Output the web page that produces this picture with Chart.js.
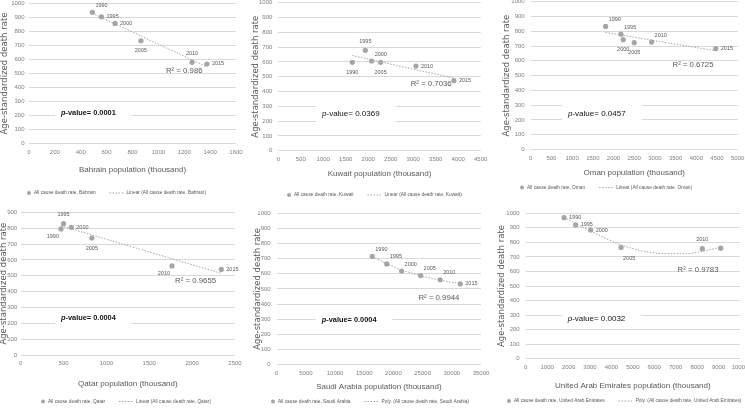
<!DOCTYPE html>
<html>
<head>
<meta charset="utf-8">
<script src="https://cdn.jsdelivr.net/npm/chart.js@4.4.0/dist/chart.umd.min.js"></script>
<style>
    html, body { margin: 0; padding: 0; background: #fff; width: 745px; height: 409px; overflow: hidden; position: relative; }
    canvas { position: absolute; }
</style>
</head>
<body>
<canvas id="bahrain"></canvas>
<canvas id="kuwait"></canvas>
<canvas id="oman"></canvas>
<canvas id="qatar"></canvas>
<canvas id="saudi"></canvas>
<canvas id="uae"></canvas>
<script>
// Data
const years = ['1990', '1995', '2000', '2005', '2010', '2015'];
const rateTicks = [0, 100, 200, 300, 400, 500, 600, 700, 800, 900, 1000];
const qatarRateTicks = [0, 100, 200, 300, 400, 500, 600, 700, 800, 900];

const bahrainPop = [490, 560, 665, 865, 1260, 1375];
const bahrainRate = [937, 905, 858, 734, 580, 568];
const bahrainTrendPop = [490, 1375];
const bahrainTrendRate = [930, 547];
const bahrainPopTicks = [0, 200, 400, 600, 800, 1000, 1200, 1400, 1600];

const kuwaitPop = [1645, 1935, 2075, 2275, 3060, 3905];
const kuwaitRate = [597, 678, 606, 597, 572, 473];
const kuwaitTrendPop = [1645, 3905];
const kuwaitTrendRate = [643, 490];
const kuwaitPopTicks = [0, 500, 1000, 1500, 2000, 2500, 3000, 3500, 4000, 4500];

const omanPop = [1810, 2180, 2235, 2500, 2920, 4470];
const omanRate = [833, 780, 743, 723, 727, 683];
const omanTrendPop = [1810, 4470];
const omanTrendRate = [792, 668];
const omanPopTicks = [0, 500, 1000, 1500, 2000, 2500, 3000, 3500, 4000, 4500, 5000];

const qatarPop = [470, 500, 590, 830, 1765, 2340];
const qatarRate = [795, 828, 805, 738, 562, 540];
const qatarTrendPop = [470, 2340];
const qatarTrendRate = [815, 515];
const qatarPopTicks = [0, 500, 1000, 1500, 2000, 2500];

const saudiPop = [16380, 18850, 21400, 24650, 28000, 31450];
const saudiRate = [715, 665, 618, 588, 560, 533];
const saudiTrendPop = [16380, 18850, 21400, 24650, 28000, 31450];
const saudiTrendRate = [712, 668, 625, 588, 558, 535];
const saudiPopTicks = [0, 5000, 10000, 15000, 20000, 25000, 30000, 35000];

const uaePop = [1790, 2330, 3030, 4450, 8240, 9100];
const uaeRate = [970, 920, 885, 765, 757, 760];
const uaeTrendPop = [1790, 3000, 4450, 5500, 6500, 7500, 8240, 9100];
const uaeTrendRate = [972, 880, 782, 740, 722, 722, 738, 768];
const uaePopTicks = [0, 1000, 2000, 3000, 4000, 5000, 6000, 7000, 8000, 9000, 10000];

const SANS = '"Liberation Sans", Arial, sans-serif';
const WIDE = '"DejaVu Sans", Verdana, sans-serif';
const GREY = '#a5a5a5';
const TEXT = '#595959';

// where the year label sits next to its point
const placements = {
    e:  { align: 'left',   dx: 5,  dy: 0 },
    ne: { align: 'left',   dx: 3,  dy: -7 },
    n:  { align: 'center', dx: 0,  dy: -9 },
    s:  { align: 'center', dx: 0,  dy: 10 },
    sw: { align: 'right',  dx: -2, dy: 8 },
    se: { align: 'left',   dx: 2,  dy: 11 }
};

function pValueFonts(p) {
    const w = p.pBold ? 'bold ' : '';
    const fs = p.pBold ? 7.4 : 8;
    return ['italic ' + w + fs + 'px ' + SANS, w + fs + 'px ' + SANS];
}

function buildPanel(p) {
    const canvasLeft = Math.floor(p.area.left) - 40;
    const canvasTop = Math.floor(p.area.top) - 10;
    const canvasW = Math.ceil(p.area.right) + 16 - canvasLeft;
    const canvasH = Math.ceil(p.legendY) + 8 - canvasTop;
    const el = document.getElementById(p.id);
    el.width = canvasW;
    el.height = canvasH;
    el.style.left = canvasLeft + 'px';
    el.style.top = canvasTop + 'px';

    const yW = p.area.left - canvasLeft;
    const padTop = p.area.top - canvasTop;
    const padRight = canvasLeft + canvasW - p.area.right;
    const xH = canvasTop + canvasH - p.area.bottom;
    const yTitleSize = 8.5, xTitleSize = 8;

    const extras = {
        id: 'extras',
        beforeDatasetsDraw(chart) {
            // white box behind the p-value, hides the grid line
            const { ctx, scales: { x, y } } = chart;
            const [fItalic, fPlain] = pValueFonts(p);
            ctx.save();
            ctx.font = fItalic;
            let tw = ctx.measureText('p').width;
            ctx.font = fPlain;
            tw += ctx.measureText('-value= ' + p.pValue).width;
            const tx = x.getPixelForValue(p.pAt[0]);
            const ty = y.getPixelForValue(p.pAt[1]);
            ctx.fillStyle = '#fff';
            ctx.fillRect(tx - 6, ty - 9, tw + 22, 18);
            ctx.restore();
        },
        afterDatasetsDraw(chart) {
            const { ctx, scales: { x, y } } = chart;
            const pts = chart.getDatasetMeta(0).data;
            ctx.save();
            ctx.fillStyle = TEXT;
            ctx.textBaseline = 'middle';
            ctx.font = '5.5px ' + SANS;
            pts.forEach((pt, i) => {
                const pl = placements[p.labelPos[i]];
                if (!pl) return;
                ctx.textAlign = pl.align;
                ctx.fillText(years[i], pt.x + pl.dx, pt.y + pl.dy);
            });
            // R squared
            ctx.font = '7.8px ' + SANS;
            ctx.textAlign = 'center';
            ctx.fillText('R\u00b2 = ' + p.r2, x.getPixelForValue(p.r2At[0]), y.getPixelForValue(p.r2At[1]));
            // p-value
            const [fItalic, fPlain] = pValueFonts(p);
            let tx = x.getPixelForValue(p.pAt[0]);
            const ty = y.getPixelForValue(p.pAt[1]);
            ctx.textAlign = 'left';
            ctx.fillStyle = '#111';
            ctx.font = fItalic;
            ctx.fillText('p', tx, ty);
            tx += ctx.measureText('p').width;
            ctx.font = fPlain;
            ctx.fillText('-value= ' + p.pValue, tx, ty);
            ctx.restore();
        },
        afterDraw(chart) {
            // legend
            const ctx = chart.ctx;
            const ly = p.legendY - canvasTop;
            let lx = p.legendX - canvasLeft;
            const name1 = 'All cause death rate, ' + p.country;
            const name2 = p.fit + ' (All cause death rate, ' + p.country + ')';
            ctx.save();
            ctx.font = '4.8px ' + SANS;
            ctx.textBaseline = 'middle';
            ctx.textAlign = 'left';
            ctx.fillStyle = GREY;
            ctx.beginPath();
            ctx.arc(lx + 2, ly, 2, 0, Math.PI * 2);
            ctx.fill();
            lx += 7;
            ctx.fillStyle = TEXT;
            ctx.fillText(name1, lx, ly);
            lx += ctx.measureText(name1).width + 14;
            ctx.strokeStyle = GREY;
            ctx.lineWidth = 1;
            ctx.setLineDash([1.5, 1.5]);
            ctx.beginPath();
            ctx.moveTo(lx, ly);
            ctx.lineTo(lx + 15, ly);
            ctx.stroke();
            ctx.fillText(name2, lx + 17, ly);
            ctx.restore();
        }
    };

    const points = p.pop.map((v, i) => ({ x: v, y: p.rate[i] }));
    const trend = p.trendPop.map((v, i) => ({ x: v, y: p.trendRate[i] }));

    return new Chart(el.getContext('2d'), {
        type: 'scatter',
        data: {
            datasets: [{
                label: 'All cause death rate, ' + p.country,
                data: points,
                pointRadius: 2.6,
                pointBackgroundColor: GREY,
                pointBorderWidth: 0,
                order: 0
            }, {
                label: p.fit + ' (All cause death rate, ' + p.country + ')',
                data: trend,
                showLine: true,
                pointRadius: 0,
                borderColor: GREY,
                borderWidth: 1,
                borderDash: [1.5, 1.5],
                tension: p.fit === 'Poly.' ? 0.4 : 0,
                cubicInterpolationMode: p.fit === 'Poly.' ? 'monotone' : 'default',
                order: 1
            }]
        },
        options: {
            responsive: false,
            animation: false,
            layout: { padding: { left: 0, top: padTop, right: padRight, bottom: 0 } },
            plugins: { legend: { display: false }, tooltip: { enabled: false } },
            scales: {
                x: {
                    type: 'linear',
                    min: p.popTicks[0],
                    max: p.popTicks[p.popTicks.length - 1],
                    afterBuildTicks: s => { s.ticks = p.popTicks.map(v => ({ value: v })); },
                    afterFit: s => { s.height = xH; },
                    grid: { display: false, drawTicks: false },
                    border: { display: false },
                    ticks: {
                        padding: 5,
                        color: '#7f7f7f',
                        font: { family: SANS, size: 6, lineHeight: 1.2 },
                        maxRotation: 0,
                        autoSkip: false,
                        callback: v => String(v)
                    },
                    title: {
                        display: true,
                        text: p.country + ' population (thousand)',
                        color: TEXT,
                        font: { family: SANS, size: xTitleSize, lineHeight: 1.2 },
                        padding: { top: 0, bottom: canvasTop + canvasH - p.xTitleY - xTitleSize * 0.6 }
                    }
                },
                y: {
                    min: p.rateTicks[0],
                    max: p.rateTicks[p.rateTicks.length - 1],
                    afterBuildTicks: s => { s.ticks = p.rateTicks.map(v => ({ value: v })); },
                    afterFit: s => { s.width = yW; },
                    grid: { color: '#d9d9d9', drawTicks: false, lineWidth: 1 },
                    border: { display: false },
                    ticks: {
                        padding: p.yTickPad,
                        color: '#7f7f7f',
                        font: { family: SANS, size: 6, lineHeight: 1.2 },
                        autoSkip: false,
                        callback: v => String(v)
                    },
                    title: {
                        display: true,
                        text: 'Age-standardized death rate',
                        color: TEXT,
                        font: { family: WIDE, size: yTitleSize, lineHeight: 1.2 },
                        padding: { top: p.yTitleX - canvasLeft - yTitleSize * 0.6, bottom: 0 }
                    }
                }
            }
        },
        plugins: [extras]
    });
}

buildPanel({
    id: 'bahrain', country: 'Bahrain', fit: 'Linear',
    pop: bahrainPop, rate: bahrainRate, trendPop: bahrainTrendPop, trendRate: bahrainTrendRate,
    popTicks: bahrainPopTicks, rateTicks: rateTicks,
    labelPos: ['ne', 'e', 'e', 's', 'n', 'e'],
    r2: '0.986', r2At: [1200, 520],
    pValue: '0.0001', pBold: true, pAt: [247, 218],
    area: { left: 29, top: 3.5, right: 236, bottom: 143.5 },
    yTitleX: 4.5, yTickPad: 4.5, xTitleY: 170, legendY: 193, legendX: 27
});

buildPanel({
    id: 'kuwait', country: 'Kuwait', fit: 'Linear',
    pop: kuwaitPop, rate: kuwaitRate, trendPop: kuwaitTrendPop, trendRate: kuwaitTrendRate,
    popTicks: kuwaitPopTicks, rateTicks: rateTicks,
    labelPos: ['s', 'n', 'ne', 's', 'e', 'e'],
    r2: '0.7036', r2At: [3400, 450],
    pValue: '0.0369', pBold: false, pAt: [972, 248],
    area: { left: 278.3, top: 2.7, right: 480.7, bottom: 150.7 },
    yTitleX: 256, yTickPad: 6, xTitleY: 174, legendY: 195, legendX: 287
});

buildPanel({
    id: 'oman', country: 'Oman', fit: 'Linear',
    pop: omanPop, rate: omanRate, trendPop: omanTrendPop, trendRate: omanTrendRate,
    popTicks: omanPopTicks, rateTicks: rateTicks,
    labelPos: ['ne', 'ne', 's', 's', 'ne', 'e'],
    r2: '0.6725', r2At: [3920, 572],
    pValue: '0.0457', pBold: false, pAt: [901, 240],
    area: { left: 530.7, top: 1.7, right: 737.7, bottom: 149.5 },
    yTitleX: 507, yTickPad: 6, xTitleY: 172.5, legendY: 187.5, legendX: 520
});

buildPanel({
    id: 'qatar', country: 'Qatar', fit: 'Linear',
    pop: qatarPop, rate: qatarRate, trendPop: qatarTrendPop, trendRate: qatarTrendRate,
    popTicks: qatarPopTicks, rateTicks: qatarRateTicks,
    labelPos: ['sw', 'n', 'e', 's', 'sw', 'e'],
    r2: '0.9655', r2At: [2040, 467],
    pValue: '0.0004', pBold: true, pAt: [470, 233],
    area: { left: 20.7, top: 212.3, right: 235, bottom: 355 },
    yTitleX: 4, yTickPad: 3.5, xTitleY: 384, legendY: 401.5, legendX: 41
});

buildPanel({
    id: 'saudi', country: 'Saudi Arabia', fit: 'Poly.',
    pop: saudiPop, rate: saudiRate, trendPop: saudiTrendPop, trendRate: saudiTrendRate,
    popTicks: saudiPopTicks, rateTicks: rateTicks,
    labelPos: ['ne', 'ne', 'ne', 'ne', 'ne', 'e'],
    r2: '0.9944', r2At: [27800, 440],
    pValue: '0.0004', pBold: true, pAt: [7710, 294],
    area: { left: 276.7, top: 213.3, right: 481, bottom: 364.5 },
    yTitleX: 258, yTickPad: 6, xTitleY: 387, legendY: 401.5, legendX: 271
});

buildPanel({
    id: 'uae', country: 'United Arab Emirates', fit: 'Poly.',
    pop: uaePop, rate: uaeRate, trendPop: uaeTrendPop, trendRate: uaeTrendRate,
    popTicks: uaePopTicks, rateTicks: rateTicks,
    labelPos: ['e', 'e', 'e', 'se', 'n', null],
    r2: '0.9783', r2At: [8040, 610],
    pValue: '0.0032', pBold: false, pAt: [1960, 273],
    area: { left: 525.7, top: 213.3, right: 740, bottom: 358.7 },
    yTitleX: 502, yTickPad: 6, xTitleY: 386, legendY: 401, legendX: 507
});
</script>
</body>
</html>
